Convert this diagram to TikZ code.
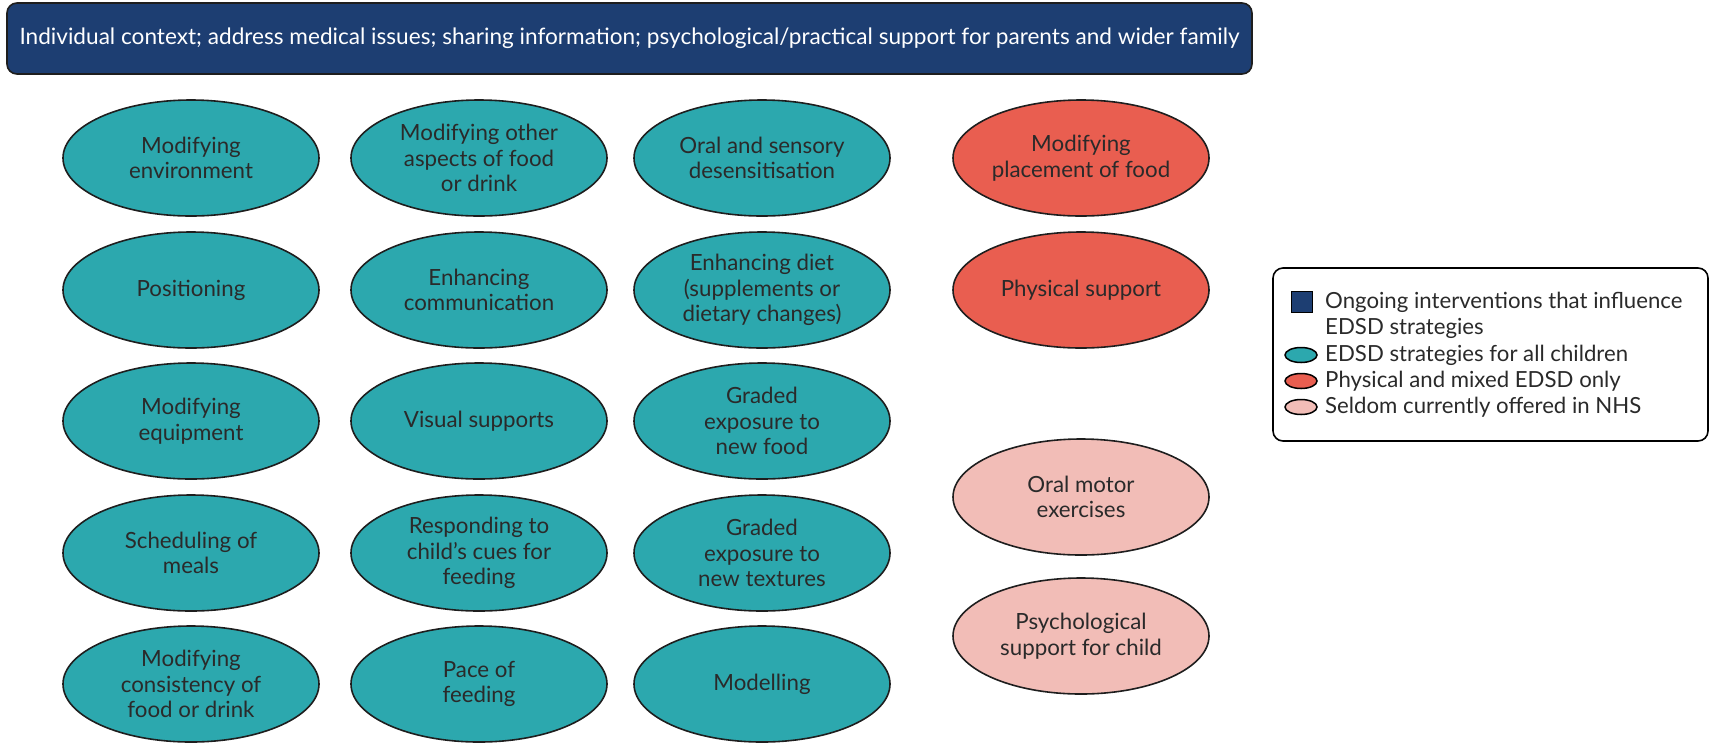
\documentclass[tikz,border=0pt]{standalone}
\usepackage{fontspec}
\setmainfont{Lato}
\usetikzlibrary{shapes.geometric}
\definecolor{navy}{HTML}{1D3E72}
\definecolor{teal2}{HTML}{2CA8AE}
\definecolor{redo}{HTML}{E95E50}
\definecolor{pinkish}{HTML}{F2BDB7}
\definecolor{edge}{HTML}{1E1E1E}
\definecolor{txt}{HTML}{2A2A2A}
\begin{document}
\begin{tikzpicture}[x=1pt,y=-1pt,
  oval/.style={ellipse, draw=edge, line width=1.6pt, minimum width=256pt, minimum height=116pt,
    inner sep=0pt, align=center, text=txt, font=\fontsize{22.3}{25.5}\selectfont},
  tealoval/.style={oval, fill=teal2},
  redoval/.style={oval, fill=redo},
  pinkoval/.style={oval, fill=pinkish},
  legtext/.style={anchor=west, inner sep=0pt, text=txt, font=\fontsize{22.2}{25}\selectfont},
  legoval/.style={ellipse, draw=black, line width=1.5pt, minimum width=32pt, minimum height=15pt, inner sep=0pt},
]
\useasboundingbox (0,0) rectangle (1712,748);

% top bar
\node[draw=edge, line width=1.6pt, fill=navy, rounded corners=10pt, minimum width=1245pt, minimum height=71pt,
  inner sep=0pt, text=white, font=\fontsize{22.6}{26}\selectfont] (top) at (629.5,38.5)
  {Individual context; address medical issues; sharing information; psychological/practical support for parents and wider family};

% column 1
\node[tealoval] (c1r1) at (191,158) {Modifying\\environment};
\node[tealoval] (c1r2) at (191,290) {Positioning};
\node[tealoval] (c1r3) at (191,421) {Modifying\\equipment};
\node[tealoval] (c1r4) at (191,553) {Scheduling of\\meals};
\node[tealoval] (c1r5) at (191,684) {Modifying\\consistency of\\food or drink};

% column 2
\node[tealoval] (c2r1) at (479,158) {Modifying other\\aspects of food\\or drink};
\node[tealoval] (c2r2) at (479,290) {Enhancing\\communication};
\node[tealoval] (c2r3) at (479,421) {Visual supports};
\node[tealoval] (c2r4) at (479,553) {Responding to\\child’s cues for\\feeding};
\node[tealoval] (c2r5) at (479,684) {Pace of\\feeding};

% column 3
\node[tealoval] (c3r1) at (762,158) {Oral and sensory\\desensitisation};
\node[tealoval] (c3r2) at (762,290) {Enhancing diet\\(supplements or\\dietary changes)};
\node[tealoval] (c3r3) at (762,421) {Graded\\exposure to\\new food};
\node[tealoval] (c3r4) at (762,553) {Graded\\exposure to\\new textures};
\node[tealoval] (c3r5) at (762,684) {Modelling};

% column 4
\node[redoval] (c4r1) at (1081,158) {Modifying\\placement of food};
\node[redoval] (c4r2) at (1081,290) {Physical support};
\node[pinkoval] (c4r3) at (1081,497) {Oral motor\\exercises};
\node[pinkoval] (c4r4) at (1081,636) {Psychological\\support for child};

% legend
\node[draw=black, line width=1.6pt, fill=white, rounded corners=10pt, minimum width=435pt, minimum height=173pt,
  inner sep=0pt] (legend) at (1490.5,354.5) {};
\node[draw=black, line width=1.5pt, fill=navy, minimum size=21pt, inner sep=0pt] (lsq) at (1302,302) {};
\node[legtext] (l1a) at (1325,302) {Ongoing interventions that influence};
\node[legtext] (l1b) at (1325,328) {EDSD strategies};
\node[legoval, fill=teal2] (lo2) at (1301,355) {};
\node[legtext] (l2) at (1325,355) {EDSD strategies for all children};
\node[legoval, fill=redo] (lo3) at (1301,381) {};
\node[legtext] (l3) at (1325,381) {Physical and mixed EDSD only};
\node[legoval, fill=pinkish] (lo4) at (1301,407) {};
\node[legtext] (l4) at (1325,407) {Seldom currently offered in NHS};
\end{tikzpicture}
\end{document}
